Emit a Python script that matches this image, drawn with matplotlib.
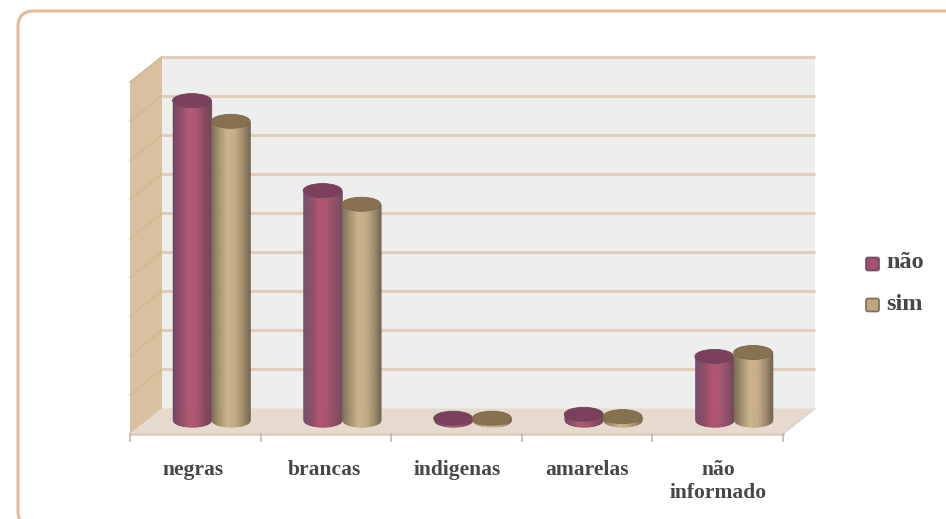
import numpy as np
import matplotlib
matplotlib.use("Agg")
import matplotlib.pyplot as plt
from matplotlib.patches import Ellipse, Polygon, FancyBboxPatch
from matplotlib.colors import LinearSegmentedColormap

categories = ["negras", "brancas", "indigenas", "amarelas", "não\ninformado"]
nao = [81.6, 58.6, 0.4, 1.4, 16.2]
sim = [76.3, 55.1, 0.4, 0.8, 17.2]
series_names = ["não", "sim"]

W, H = 946, 519
fig = plt.figure(figsize=(W / 100, H / 100), dpi=100, facecolor="white")

# Card background (pixel coordinates)
bg = fig.add_axes([0, 0, 1, 1], zorder=0)
bg.set_xlim(0, W); bg.set_ylim(H, 0); bg.axis("off")
bg.add_patch(FancyBboxPatch((18, 11), 1000, 516, boxstyle="round,pad=0,rounding_size=16",
                            fc="white", ec="#ECB896", lw=2.2, clip_on=True))

# Front plane of the pseudo-3D chart: 5 categories wide, 90 units tall
x0, x1, y_bottom = 130, 783, 434
unit = (409 - 57) / 90.0
ax = fig.add_axes([x0 / W, 1 - y_bottom / H, (x1 - x0) / W, 90 * unit / H], zorder=1)
ax.set_xlim(0, 5); ax.set_ylim(0, 90); ax.axis("off")
px_x = (x1 - x0) / 5
DX, DY = 32 / px_x, 25.5 / unit   # depth vector in data units

clip = dict(clip_on=False)
ax.add_patch(Polygon([(DX, DY), (5 + DX, DY), (5 + DX, 90 + DY), (DX, 90 + DY)], fc="#EEEEEC", ec="none", **clip))
ax.add_patch(Polygon([(0, 0), (DX, DY), (DX, 90 + DY), (0, 90)], fc="#D9C09E", ec="none", **clip))
ax.add_patch(Polygon([(0, 0), (5, 0), (5 + DX, DY), (DX, DY)], fc="#E6D9CE", ec="none", **clip))
ax.plot([0, 5], [0, 0], color="#DCCDBE", lw=2, **clip)

for v in np.arange(10, 100, 10):
    ax.plot([DX, 5 + DX], [v + DY, v + DY], color="#DFCDB6", lw=2, solid_capstyle="butt", **clip)
    ax.plot([0, DX], [v, v + DY], color="#D2B793", lw=1, **clip)
ax.plot([5, 5 + DX], [0, DY], color="#DDD4CA", lw=1, **clip)

for i in range(6):
    ax.plot([i, i], [0, -7 / unit], color="#BDB7A8", lw=1.2, **clip)

BW = 0.297
E_H = 14 / unit
cm_nao = LinearSegmentedColormap.from_list("n", ["#70486A", "#8E4864", "#AE5470", "#A85270", "#8C4862", "#6A4656"])
cm_sim = LinearSegmentedColormap.from_list("s", ["#7C6C54", "#A8936F", "#CBB38C", "#C4AB85", "#A08C6B", "#6F614C"])
YB = DY / 2 + 1.5 / unit

def cylinder(xc, h, cmap, top, edge, z):
    left = xc - BW / 2
    edges = np.linspace(left, left + BW, 41)
    for a, b in zip(edges[:-1], edges[1:]):
        xs = np.array([a, b])
        t = (xs - xc) / (BW / 2)
        low = YB - E_H / 2 * np.sqrt(np.clip(1 - t**2, 0, 1))
        col = cmap((a - left) / BW)
        ax.fill_between(xs, low, YB + h, color=col, lw=0.4, zorder=z, clip_on=False)
    ax.add_patch(Ellipse((xc, YB + h), BW, E_H, fc=top, ec=edge, lw=0.6, zorder=z + 0.1, **clip))

for i in range(5):
    cylinder(i + 0.5 + DX / 2 - BW / 2, nao[i], cm_nao, "#7C3F5C", "#6A4A58", 3)
    cylinder(i + 0.5 + DX / 2 + BW / 2, sim[i], cm_sim, "#87714F", "#75674F", 4)

ax.set_xlim(0, 5); ax.set_ylim(0, 90)

# Category labels and legend, as text in pixel coordinates
TC = "#4A4643"
font = dict(family="Liberation Serif", color=TC, fontweight="bold")
label_x = [193, 324, 457, 587, 718]
for lx, c in zip(label_x, categories):
    bg.text(lx, 460, c, ha="center", va="top", linespacing=1.22, fontsize=15.5, zorder=5, **font)

for y, n, c, e in zip([264, 305], series_names, ["#A5506E", "#BFA67F"], ["#6E4A5C", "#7C6C54"]):
    bg.add_patch(FancyBboxPatch((866, y - 6.5), 13, 13, boxstyle="round,pad=0,rounding_size=2", fc=c, ec=e, lw=1.2))
    bg.text(886, y - 1, n, ha="left", va="center", fontsize=17.5, zorder=5, **font)

fig.savefig("out.png", dpi=100)
